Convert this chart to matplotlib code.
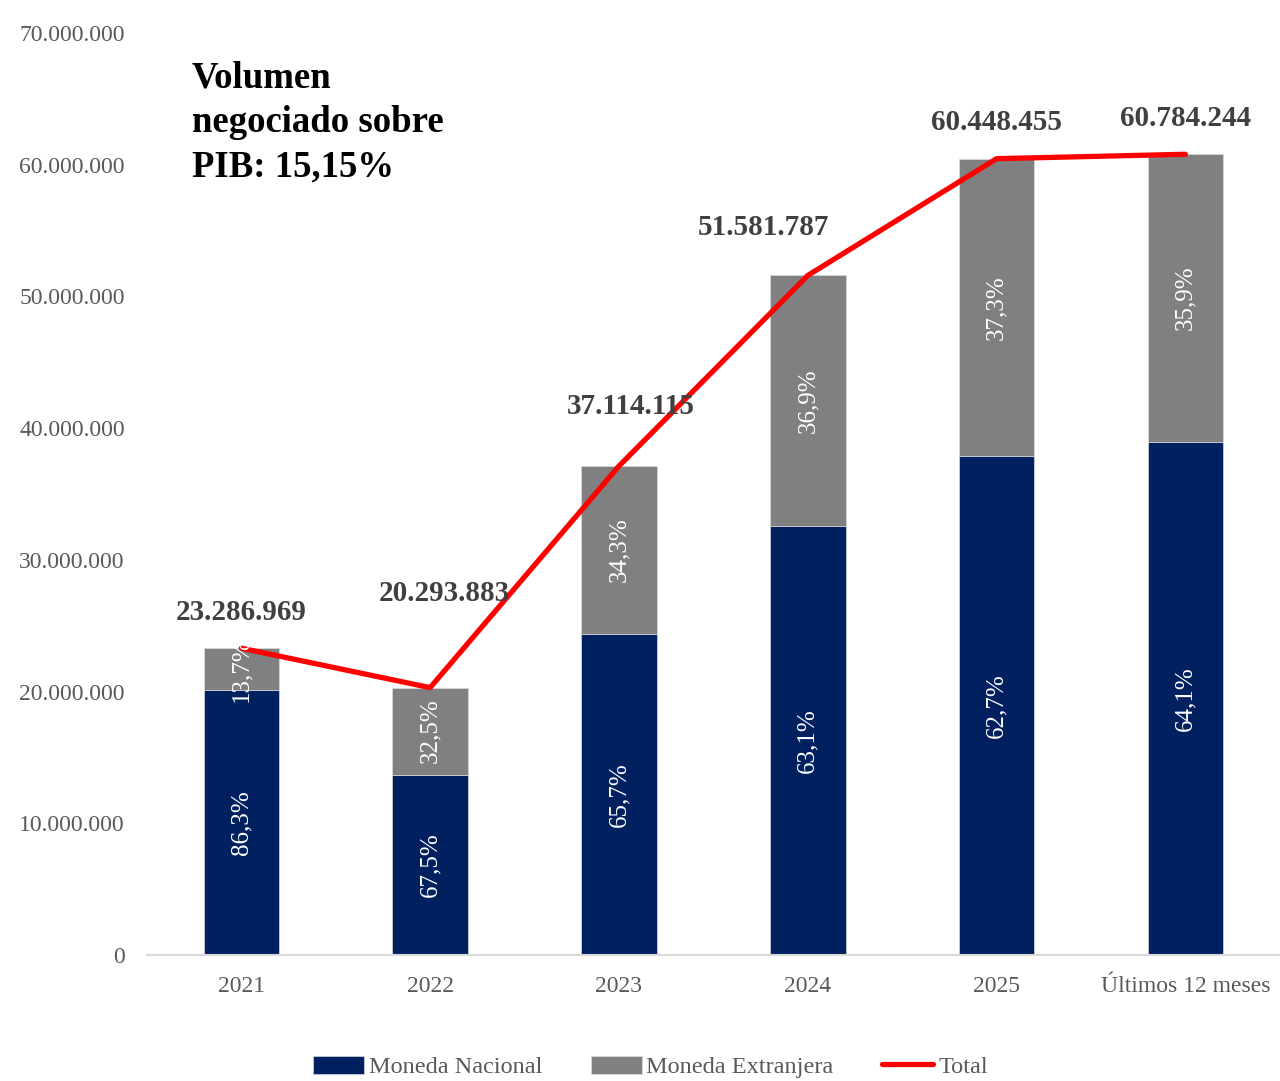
import matplotlib.pyplot as plt
import numpy as np

plt.rcParams['font.family'] = ['Liberation Serif', 'DejaVu Serif']

categorias = ["2021", "2022", "2023", "2024", "2025", "Últimos 12 meses"]
total = [23286969, 20293883, 37114115, 51581787, 60448455, 60784244]
pct_nacional = [86.3, 67.5, 65.7, 63.1, 62.7, 64.1]
pct_extranjera = [13.7, 32.5, 34.3, 36.9, 37.3, 35.9]
etiquetas_total = ["23.286.969", "20.293.883", "37.114.115", "51.581.787", "60.448.455", "60.784.244"]

# where the total labels sit (pixels offset from the point)
label_dx = [0, 14, 12, -44, 0, 0]
label_dy = [36, 94, 60, 48, 36, 36]

navy = "#002060"
gris = "#808080"
rojo = "#ff0000"
gris_txt = "#595959"

total = np.array(total, dtype=float)
nacional = total * np.array(pct_nacional) / 100
extranjera = total * np.array(pct_extranjera) / 100
x = np.arange(len(categorias))

fig = plt.figure(figsize=(12.8, 10.81), dpi=100)
ax = fig.add_axes([0.1148, 0.1166, 0.885, 0.853])

w = 0.40
b1 = ax.bar(x, nacional, w, color=navy, edgecolor="#d9d9d9", linewidth=0.5,
            label="Moneda Nacional", zorder=2)
b2 = ax.bar(x, extranjera, w, bottom=nacional, color=gris, edgecolor="#d9d9d9",
            linewidth=0.5, label="Moneda Extranjera", zorder=2)
ax.plot(x, total, color=rojo, lw=3.8, solid_capstyle="round", label="Total", zorder=3)

for i in range(len(x)):
    ax.text(x[i], nacional[i] / 2, f"{pct_nacional[i]:.1f}%".replace(".", ","),
            rotation=90, ha="center", va="center", color="white", fontsize=18, zorder=4)
    ax.text(x[i], nacional[i] + extranjera[i] / 2, f"{pct_extranjera[i]:.1f}%".replace(".", ","),
            rotation=90, ha="center", va="center", color="white", fontsize=18, zorder=4)
    ax.annotate(etiquetas_total[i], (x[i], total[i]), xytext=(label_dx[i], label_dy[i]),
                textcoords="offset pixels", ha="center", va="center",
                fontsize=21, fontweight="bold", color="#404040", zorder=5)

ax.text(192, 1081 - 60, "Volumen\nnegociado sobre\nPIB: 15,15%", transform=None,
        ha="left", va="top", fontsize=26.5, fontweight="bold", color="black",
        linespacing=1.36)

ax.set_xlim(-0.5, len(x) - 0.5)
ax.set_ylim(0, 70000000)
ax.set_yticks(np.arange(0, 70000001, 10000000))
ax.set_yticklabels([f"{v:,.0f}".replace(",", ".") for v in np.arange(0, 70000001, 10000000)])
ax.set_xticks(x)
ax.set_xticklabels(categorias)
ax.tick_params(axis="y", length=0, pad=16, labelsize=17, labelcolor=gris_txt)
ax.tick_params(axis="x", length=0, pad=15, labelsize=17, labelcolor=gris_txt)

for s in ["top", "right", "left"]:
    ax.spines[s].set_visible(False)
ax.spines["bottom"].set_color("#d9d9d9")
ax.spines["bottom"].set_linewidth(1.5)

leg = fig.legend(handles=[b1, b2, ax.lines[0]], loc="center", bbox_to_anchor=(0.508, 0.013),
                 ncol=3, frameon=False, fontsize=17.5, handlelength=2.1, handleheight=0.8,
                 handletextpad=0.2, columnspacing=2.0)
for t in leg.get_texts():
    t.set_color(gris_txt)

fig.savefig("out.png", dpi=100)
